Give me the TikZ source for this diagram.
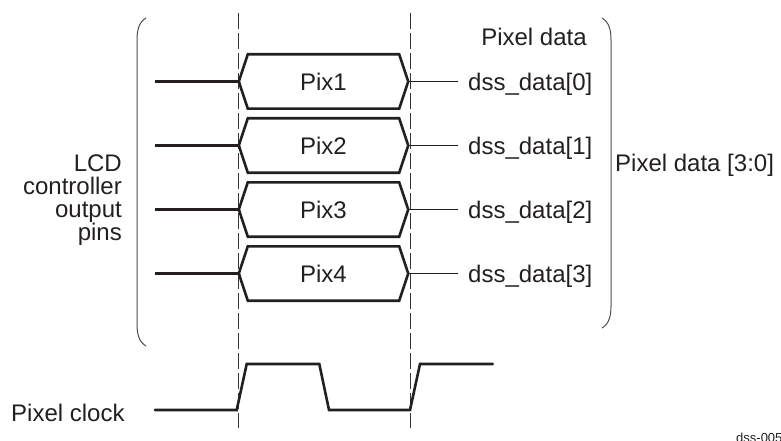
\documentclass[tikz,border=0pt]{standalone}
\usepackage{fontspec}
\setmainfont{Liberation Sans}
\usetikzlibrary{calc}
\definecolor{ink}{HTML}{231F20}
\begin{document}
\begin{tikzpicture}[x=1pt,y=-1pt,
  lbl/.style={inner sep=0pt, font=\fontsize{24}{22.7}\selectfont, text=ink},
  pixbox/.style={minimum width=169pt, minimum height=54pt, inner sep=0pt,
                 font=\fontsize{24}{26}\selectfont, text=ink},
  datalbl/.style={inner xsep=10pt, inner ysep=0pt, anchor=base west,
                  font=\fontsize{24}{26}\selectfont, text=ink},
  thickline/.style={line width=2.6pt, draw=ink, line join=miter},
  thinline/.style={line width=1pt, draw=ink},
  guide/.style={line width=1.1pt, draw=ink!90, dash pattern=on 16pt off 4pt},
  bracket/.style={line width=1pt, draw=ink!80}]
\useasboundingbox (0,0) rectangle (781,441);

% dashed guide lines
\coordinate (g1t) at (238.7,13);
\coordinate (g1b) at (238.7,428);
\coordinate (g2t) at (410.3,13);
\coordinate (g2b) at (410.3,428);
\draw[guide] (g1t) -- (g1b);
\draw[guide] (g2t) -- (g2b);

% brackets
\draw[bracket] (146,18) .. controls (139,22) and (137,30) .. (137,40)
  -- (137,324) .. controls (137,334) and (139,342) .. (146,346);
\draw[bracket] (602,18) .. controls (609,22) and (611,30) .. (611,40)
  -- (611,306) .. controls (611,316) and (609,324) .. (602,328);

% pixel boxes, inputs and outputs
\foreach \i/\y in {1/81.5,2/145.5,3/209.5,4/273.5}{
  \node[pixbox] (p\i) at (323.5,\y) {Pix\i};
  \draw[thickline] ($(p\i.north west)+(9,0)$) -- ($(p\i.north east)+(-9,0)$)
     -- (p\i.east) -- ($(p\i.south east)+(-9,0)$) -- ($(p\i.south west)+(9,0)$)
     -- (p\i.west) -- cycle;
  \coordinate (in\i) at (155,\y);
  \draw[thickline] (in\i) -- (p\i.west);
  \pgfmathtruncatemacro{\k}{\i-1}
  \node[datalbl] (d\i) at (458,\y+9) {dss\_data[\k]};
  \draw[thinline] (p\i.east) -- (p\i.east -| d\i.west);
}

% labels
\node[lbl, anchor=base] (pd) at (534,45.7) {Pixel data};
\node[lbl, anchor=base west] (pd30) at (615,171) {Pixel data [3:0]};
\node[lbl, anchor=north east, align=right] (lcd) at (122,155)
  {LCD\\controller\\output\\pins};
\node[lbl, anchor=base west] (clk) at (11,421.7) {Pixel clock};
\node[inner sep=0pt, anchor=base west, font=\fontsize{13}{15}\selectfont, text=ink]
  (ref) at (736,442) {dss-005};

% pixel clock waveform
\coordinate (c0) at (155,410);
\draw[thickline, line cap=round] (c0) -- (236.7,410) -- (246.7,364) -- (319.3,364)
  -- (329,410) -- (410,410) -- (420,364) -- (492.7,364);
\end{tikzpicture}
\end{document}
